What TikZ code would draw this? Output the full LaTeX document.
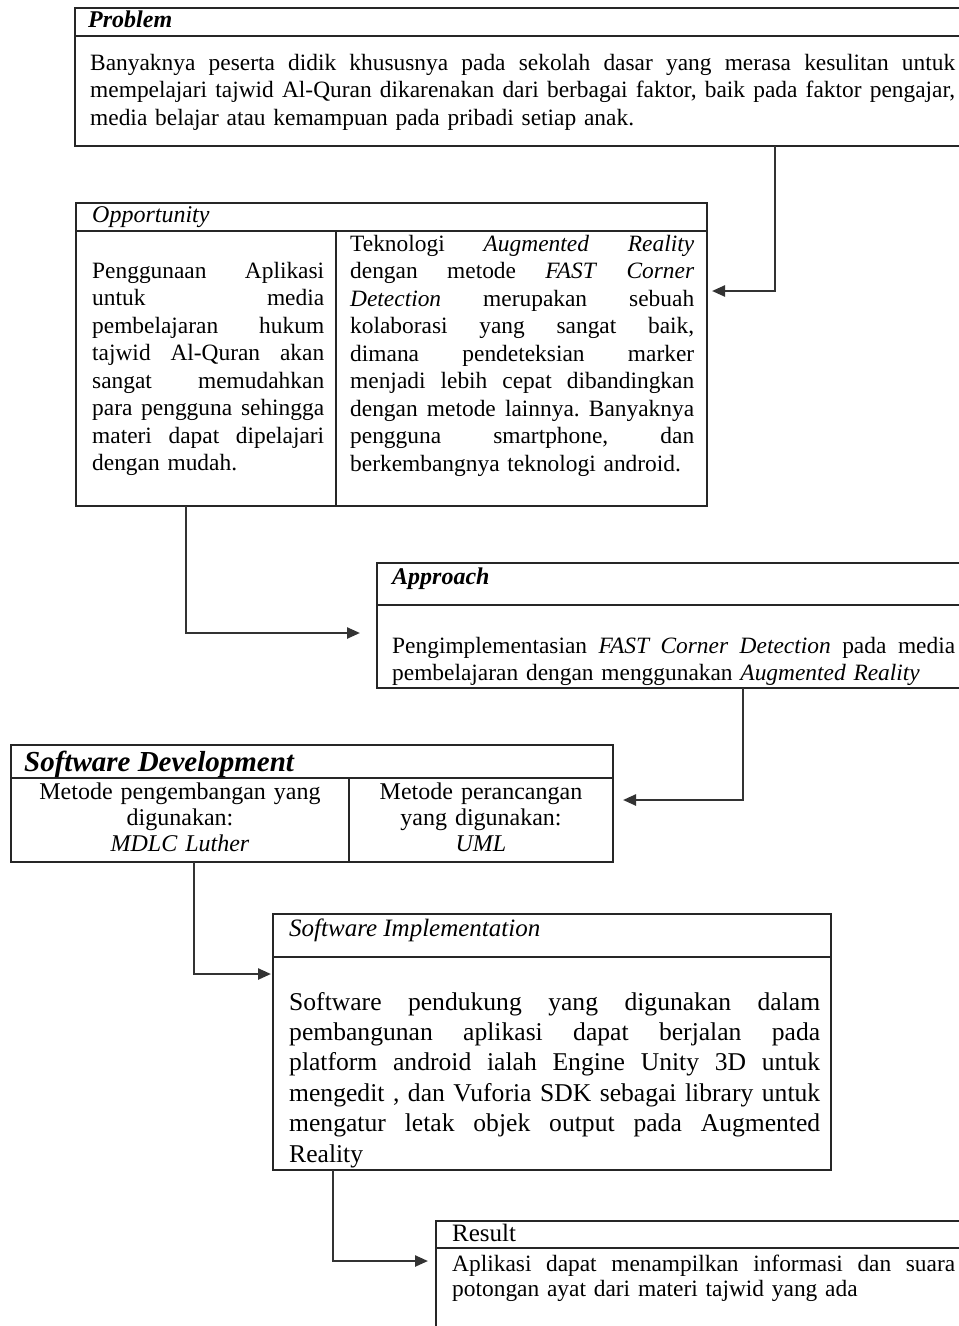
\documentclass[tikz,border=0pt]{standalone}
\usepackage{fontspec}
\setmainfont{Liberation Serif}
\usetikzlibrary{arrows.meta}
\setlength{\parindent}{0pt}
\frenchspacing
\newcommand{\jl}[1]{\makebox[\hsize][s]{\spaceskip=0.25em plus 1fil\relax #1}}
\begin{document}
\begin{tikzpicture}[x=1pt,y=-1pt,
  box/.style={draw=black!85, line width=1.6pt, inner sep=0pt, outer sep=0pt, anchor=north west},
  rule/.style={draw=black!85, line width=1.6pt},
  conn/.style={draw=black!80, line width=2.4pt, -{Triangle[length=13pt,width=11pt]}},
  txt/.style={inner sep=0pt, anchor=base west, font=\fontsize{23.4}{27.5}\selectfont\frenchspacing},
  hdr/.style={inner sep=0pt, anchor=base west, font=\fontsize{24}{28}\selectfont\itshape},
  hdrb/.style={hdr, font=\fontsize{24}{28}\selectfont\bfseries\itshape},
]
\useasboundingbox (0,0) rectangle (959,1326);
\clip (0,0) rectangle (959,1326);

% ---------- Problem ----------
\node[box, minimum width=900pt, minimum height=138pt] (prob) at (75,8) {};
\draw[rule] ([yshift=-28pt]prob.north west) -- ([yshift=-28pt]prob.north east);
\node[hdrb] (probh) at (88,27) {Problem};
\node[txt, text width=865pt] (probt) at (90,70) {%
\jl{Banyaknya peserta didik khususnya pada sekolah dasar yang merasa kesulitan untuk}\\
\jl{mempelajari tajwid Al-Quran dikarenakan dari berbagai faktor, baik pada faktor pengajar,}\\
media belajar atau kemampuan pada pribadi setiap anak.};

% ---------- Opportunity ----------
\node[box, minimum width=631pt, minimum height=303pt] (opp) at (76,203) {};
\draw[rule] ([yshift=-28pt]opp.north west) -- ([yshift=-28pt]opp.north east);
\draw[rule] ([xshift=260pt,yshift=-28pt]opp.north west) -- ([xshift=260pt]opp.south west);
\node[hdr] (opph) at (92,222) {Opportunity};
\node[txt, text width=232pt] (oppl) at (92,278) {%
\jl{Penggunaan Aplikasi}\\
\jl{untuk media}\\
\jl{pembelajaran hukum}\\
\jl{tajwid Al-Quran akan}\\
\jl{sangat memudahkan}\\
\jl{para pengguna sehingga}\\
\jl{materi dapat dipelajari}\\
dengan mudah.};
\node[txt, text width=344pt] (oppr) at (350,251) {%
\jl{Teknologi \textit{Augmented} \textit{Reality}}\\
\jl{dengan metode \textit{FAST} \textit{Corner}}\\
\jl{\textit{Detection} merupakan sebuah}\\
\jl{kolaborasi yang sangat baik,}\\
\jl{dimana pendeteksian marker}\\
\jl{menjadi lebih cepat dibandingkan}\\
\jl{dengan metode lainnya. Banyaknya}\\
\jl{pengguna smartphone, dan}\\
berkembangnya teknologi android.};

% ---------- Approach ----------
\node[box, minimum width=598pt, minimum height=125pt] (appr) at (377,563) {};
\draw[rule] ([yshift=-42pt]appr.north west) -- ([yshift=-42pt]appr.north east);
\node[hdrb] (apprh) at (392,584) {Approach};
\node[txt, text width=563pt] (apprt) at (392,653) {%
\jl{Pengimplementasian \textit{FAST Corner Detection} pada media}\\
pembelajaran dengan menggunakan \textit{Augmented Reality}};

% ---------- Software Development ----------
\node[box, minimum width=602pt, minimum height=117pt] (sd) at (11,745) {};
\draw[rule] ([yshift=-33pt]sd.north west) -- ([yshift=-33pt]sd.north east);
\draw[rule] ([xshift=338pt,yshift=-33pt]sd.north west) -- ([xshift=338pt]sd.south west);
\node[hdr, font=\fontsize{29}{31}\selectfont\bfseries\itshape] (sdh) at (24,771) {Software Development};
\node[inner sep=0pt, anchor=base, text width=320pt, align=center, font=\fontsize{24}{26}\selectfont] (sdl) at (180,799) {Metode pengembangan yang\\ digunakan:\\ \textit{MDLC Luther}};
\node[inner sep=0pt, anchor=base, text width=250pt, align=center, font=\fontsize{24}{26}\selectfont] (sdr) at (481,799) {Metode perancangan\\ yang digunakan:\\ \textit{UML}};

% ---------- Software Implementation ----------
\node[box, minimum width=558pt, minimum height=256pt] (si) at (273,914) {};
\draw[rule] ([yshift=-43pt]si.north west) -- ([yshift=-43pt]si.north east);
\node[hdr, font=\fontsize{25}{28}\selectfont\itshape] (sih) at (289,936) {Software Implementation};
\node[txt, text width=531pt, font=\fontsize{25.6}{30.4}\selectfont\frenchspacing] (sit) at (289,1010) {%
\jl{Software pendukung yang digunakan dalam}\\
\jl{pembangunan aplikasi dapat berjalan pada}\\
\jl{platform android ialah Engine Unity 3D untuk}\\
\jl{mengedit , dan Vuforia SDK sebagai library untuk}\\
\jl{mengatur letak objek output pada Augmented}\\
Reality};

% ---------- Result ----------
\node[box, minimum width=539pt, minimum height=119pt] (res) at (436,1221) {};
\draw[rule] ([yshift=-27pt]res.north west) -- ([yshift=-27pt]res.north east);
\node[hdr, font=\fontsize{25}{28}\selectfont] (resh) at (452,1241) {Result};
\node[txt, text width=503pt, font=\fontsize{23.4}{25}\selectfont\frenchspacing] (rest) at (452,1271) {%
\jl{Aplikasi dapat menampilkan informasi dan suara}\\
potongan ayat dari materi tajwid yang ada};

% ---------- Connectors ----------
\draw[conn, shorten >=5pt] ([xshift=700pt]prob.south west) |- ([yshift=-88pt]opp.north east);
\draw[conn, shorten >=17pt] ([xshift=110pt]opp.south west) |- ([yshift=-70pt]appr.north west);
\draw[conn, shorten >=10pt] ([xshift=366pt]appr.south west) |- ([yshift=-55pt]sd.north east);
\draw[conn, shorten >=2pt] ([xshift=183pt]sd.south west) |- ([yshift=-60pt]si.north west);
\draw[conn, shorten >=8pt] ([xshift=60pt]si.south west) |- ([yshift=-40pt]res.north west);
\end{tikzpicture}
\end{document}
